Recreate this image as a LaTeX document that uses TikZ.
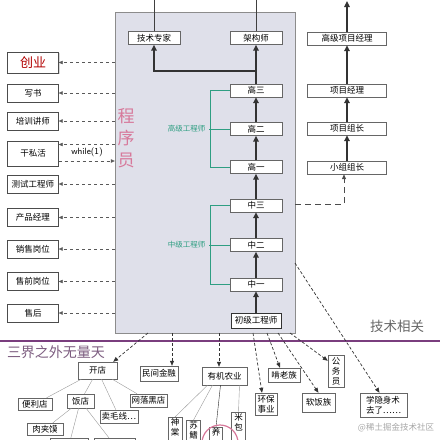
\documentclass[tikz,border=0pt]{standalone}
\usepackage{fontspec}
\setmainfont{Noto Sans CJK SC}
\usetikzlibrary{arrows.meta,shadows}

\definecolor{panelfill}{HTML}{DFE0EA}
\definecolor{grpgreen}{HTML}{2E9E82}
\definecolor{veil}{HTML}{7A3E7E}
\definecolor{progpink}{HTML}{D7789A}

\begin{document}
\begin{tikzpicture}[x=1pt,y=-1pt,
    box/.style={draw=black!60,fill=white,inner sep=1pt,font=\fontsize{8.5}{10}\selectfont},
    rank/.style={box,minimum width=52pt,minimum height=13pt},
    job/.style={box,minimum width=51pt,minimum height=18pt,draw=black!70},
    pmbox/.style={box,minimum width=79pt,minimum height=13pt},
    leaf/.style={box,inner sep=1.5pt,minimum height=13pt,align=center},
    up/.style={draw=black!80,line width=1.6pt,-{Triangle[length=6pt,width=5.5pt]}},
    leave/.style={draw=black!65,dashed,-{Triangle[length=4pt,width=3.5pt]}},
    fall/.style={draw=black!80,densely dashed,line width=0.7pt,-{Triangle[length=5pt,width=4pt]}},
    branch/.style={draw=black!40},
    grp/.style={draw=grpgreen,line width=0.9pt},
    grplabel/.style={text=grpgreen,font=\fontsize{7.5}{9}\selectfont}]

    \clip (0,0) rectangle (440,440);

    \node[draw=black!45,fill=panelfill,minimum width=180pt,minimum height=321pt,inner sep=0pt] (prog) at (205,172.5) {};
    \node[text=progpink,font=\fontsize{17}{22}\selectfont,align=center] (title) at (126,138) {程\\序\\员};

    % technical ladder
    \foreach \name/\txt/\y in {g3/高三/90.5, g2/高二/129, g1/高一/167, m3/中三/205.5, m2/中二/245, m1/中一/284.5}
      \node[rank] (\name) at (256,\y) {\txt};
    \node[rank,minimum width=50pt,minimum height=15pt,draw=black!80] (junior) at (256,320.5) {初级工程师};
    \foreach \a/\b in {junior/m1,m1/m2,m2/m3,m3/g1,g1/g2,g2/g3}
      \draw[up] (\a) -- (\b);
    \node[rank] (expert) at (154,38) {技术专家};
    \node[rank] (architect) at (256,38) {架构师};
    \coordinate (fork) at (256,71);
    \draw[up] (g3) -- (architect);
    \draw[up] (fork) -| (expert);
    \coordinate (skyA) at (154,0);
    \coordinate (skyB) at (256,0);
    \draw[black!75] (expert) -- (skyA);
    \draw[black!75] (architect) -- (skyB);

    \node[grplabel,anchor=east] (senior) at (209,129) {高级工程师};
    \draw[grp] (g3.west) -- ++(-19,0) |- (g1.west);
    \draw[grp] (g2.west) -- (senior.east);
    \node[grplabel,anchor=east] (middle) at (209,245) {中级工程师};
    \draw[grp] (m3.west) -- ++(-19,0) |- (m1.west);
    \draw[grp] (m2.west) -- (middle.east);

    % management ladder
    \foreach \name/\txt/\y in {gpm/高级项目经理/38.5, pm/项目经理/90.5, pl/项目组长/128.5, gl/小组组长/167.5}
      \node[pmbox] (\name) at (347,\y) {\txt};
    \coordinate (skyC) at (347,1);
    \foreach \a/\b in {gl/pl,pl/pm,pm/gpm,gpm/skyC}
      \draw[up] (\a) -- (\b);
    \coordinate (promo) at (295,204);
    \draw[black!70,line width=0.8pt,dash pattern=on 6pt off 4pt,-{Triangle[length=5pt,width=4pt]}] (promo) -| ([xshift=-3pt]gl.south);

    % leaving sideways
    \node[job,minimum height=21pt,font=\fontsize{13}{15}\selectfont,text=red!70!black,drop shadow={shadow xshift=1pt,shadow yshift=-1pt,opacity=0.3}] (startup) at (33,62.5) {创业};
    \draw[leave] (prog.west |- startup.east) -- (startup.east);
    \foreach \name/\txt/\y in {book/写书/93, coach/培训讲师/121, test/测试工程师/184, product/产品经理/217.5, sales/销售岗位/249, presale/售前岗位/281.5, aftersale/售后/313}{
      \node[job] (\name) at (33,\y) {\txt};
      \draw[leave] (prog.west |- \name.east) -- (\name.east);
    }
    \node[job,minimum height=25pt] (sidejob) at (33,153.5) {干私活};
    \coordinate (sjout) at ([yshift=9pt]sidejob.east);
    \coordinate (sjin) at ([yshift=-7.5pt]sidejob.east);
    \draw[leave] (sjout -| prog.west) -- (sjout);
    \draw[leave] (sjin) -- (sjin -| prog.west);
    \node[font=\sffamily\fontsize{9}{10}\selectfont] (loop) at (87,152.5) {while(1)};

    % border line
    \coordinate (lineL) at (0,341);
    \coordinate (lineR) at (440,341);
    \draw[veil,line width=2pt] (lineL) -- (lineR);
    \node[text=black!60,font=\fontsize{13.5}{15}\selectfont] (tech) at (397,326) {技术相关};
    \node[text=veil!55!gray,font=\fontsize{14}{15}\selectfont] (beyond) at (56,352) {三界之外无量天};

    % leaving downwards
    \node[leaf,minimum width=39pt,minimum height=17pt] (shop) at (97.5,370.5) {开店};
    \node[leaf,minimum width=38pt,minimum height=15pt] (finance) at (159,373.5) {民间金融};
    \node[leaf,minimum width=45pt,minimum height=18pt] (farm) at (224.5,376) {有机农业};
    \node[leaf,minimum width=22pt,minimum height=22pt] (green) at (266,404) {环保\\事业};
    \node[leaf,minimum width=32pt,minimum height=14pt] (elder) at (284,375) {啃老族};
    \node[leaf,minimum width=33pt,minimum height=19pt] (softrice) at (318.5,402.5) {软饭族};
    \node[leaf,minimum width=16pt,minimum height=32pt] (civil) at (336,371) {公\\务\\员};
    \node[leaf,minimum width=47pt,minimum height=24pt,align=left] (hermit) at (383.5,405) {学隐身术\\去了……};

    \foreach \name/\x in {sA/148, sB/172, sC/219, sD/253, sE/267, sF/278, sG/290}
      \coordinate (\name) at (\x,333);
    \coordinate (sH) at (295,263);
    \draw[fall] (sA) -- ([xshift=-4pt]shop.north east);
    \draw[fall] (sB) -- (sB |- finance.north);
    \draw[fall] (sC) -- (sC |- farm.north);
    \draw[fall] (sD) -- ([xshift=-4pt]green.north);
    \draw[fall] (sE) -- ([xshift=-4pt]elder.north);
    \draw[fall] (sF) -- (softrice.north);
    \draw[fall] (sG) -- ([yshift=-6pt]civil.north west);
    \draw[fall] (sH) -- ([xshift=-4pt]hermit.north);

    % shops
    \node[leaf,minimum width=34pt,minimum height=12pt] (store) at (35,404) {便利店};
    \node[leaf,minimum width=27pt,minimum height=14pt] (diner) at (80.5,401) {饭店};
    \node[leaf,minimum width=37pt] (webshop) at (148.5,400.5) {网落黑店};
    \node[leaf,minimum width=38pt] (yarn) at (119,416.5) {卖毛线…};
    \node[leaf,minimum width=36pt,minimum height=12pt] (roujiamo) at (45,429) {肉夹馍};
    \node[leaf,minimum width=38pt,minimum height=14pt] (cutA) at (69,445) {};
    \node[leaf,minimum width=41pt,minimum height=14pt] (cutB) at (114.5,445) {};
    \foreach \a/\b in {shop/store,shop/diner,shop/yarn,shop/webshop,diner/roujiamo,diner/cutA,diner/cutB}
      \draw[branch] (\a) -- (\b);

    % farm
    \node[leaf,minimum width=14pt,anchor=north] (shen) at (175,417) {神\\棠\\\phantom{神}};
    \node[leaf,minimum width=14pt,anchor=north] (su) at (193.5,420) {苏\\鳍\\\phantom{苏}};
    \node[leaf,minimum width=13pt,anchor=north] (yang) at (216,427) {养\\\phantom{养}};
    \node[leaf,minimum width=14pt,anchor=north] (rice) at (238.5,412) {米\\包\\\phantom{米}};
    \draw[branch] ([xshift=-17pt]farm.south) -- (shen.north);
    \draw[branch] ([xshift=-12pt]farm.south) -- (su.north);
    \draw[black!85] ([xshift=-4pt]farm.south) -- (yang.north);
    \draw[branch] ([xshift=15pt]farm.south) -- (rice.north);
    \draw[progpink,line width=1.2pt] (220,443) circle (18pt);

    \node[text=black!35,font=\fontsize{8.5}{10}\selectfont] (mark) at (396,428) {@稀土掘金技术社区};
\end{tikzpicture}
\end{document}
